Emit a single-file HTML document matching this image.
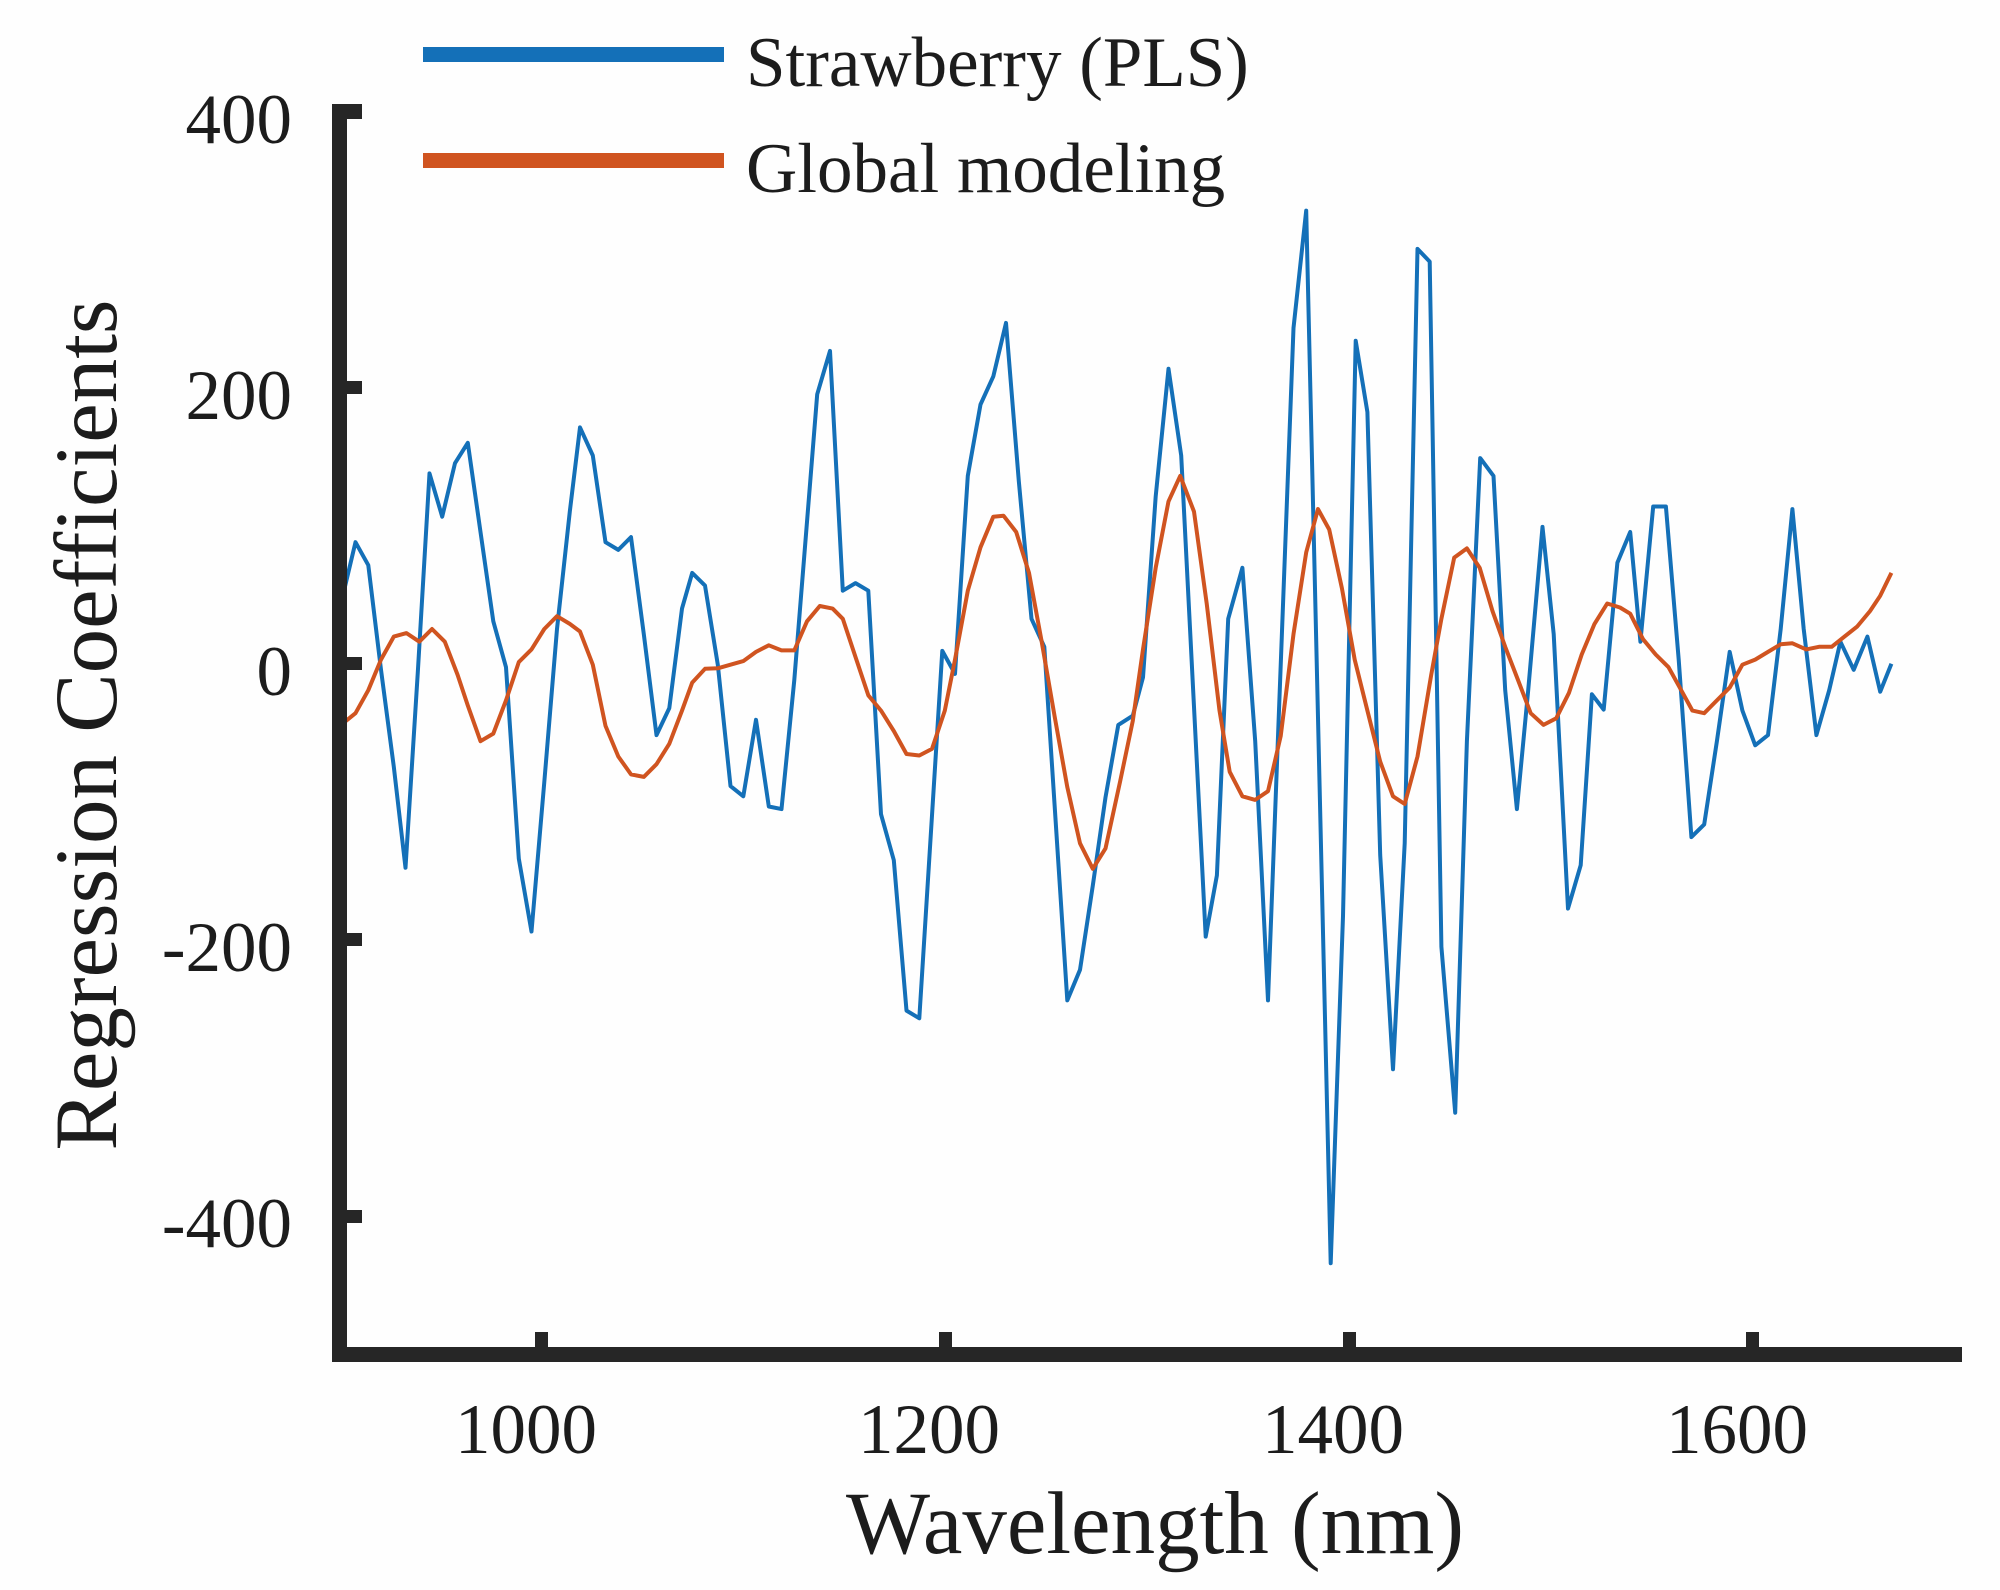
<!DOCTYPE html>
<html><head><meta charset="utf-8"><style>
html,body{margin:0;padding:0;background:#fff;}
svg{display:block;}
text{font-family:"Liberation Serif","Times New Roman",serif;fill:#1c1c1c;}
</style></head><body>
<svg width="2000" height="1590" viewBox="0 0 2000 1590" xmlns="http://www.w3.org/2000/svg">
<rect width="2000" height="1590" fill="#fefefe"/>
<!-- data -->
<polyline fill="none" stroke="#1470b8" stroke-width="4" stroke-linejoin="round" points="
342.8,595.8 355.5,542.2 368.3,565.2 381.0,669.8 393.8,766.7 405.5,867.8 417.8,672.3 429.5,473.4 442.2,516.7 455.0,463.2 467.8,442.8 480.5,532.0 493.3,621.3 506.0,667.2 518.8,858.6 531.5,931.5 544.3,782.0 557.0,629.0 569.8,511.6 580.0,427.4 592.8,455.5 605.5,542.2 618.3,549.9 631.0,537.1 643.8,634.1 656.5,735.1 669.3,708.1 682.0,608.6 692.2,572.9 705.0,585.6 717.8,664.7 730.5,786.1 743.3,796.3 756.0,719.8 768.8,806.5 781.5,809.1 794.3,680.0 807.0,521.8 817.2,394.3 830.0,350.9 842.8,590.7 855.5,583.1 868.3,590.7 881.0,814.2 893.8,860.1 906.5,1010.6 919.3,1018.3 942.3,650.9 955.0,673.9 967.8,475.9 980.5,404.5 993.3,376.4 1006.0,322.9 1018.8,481.0 1031.5,618.8 1044.3,646.8 1067.3,1000.4 1080.0,969.8 1092.8,885.6 1105.5,797.3 1118.3,724.9 1132.8,715.7 1143.0,677.4 1155.7,496.3 1168.5,368.8 1181.2,455.5 1205.7,936.6 1216.9,875.4 1228.2,618.8 1242.4,567.8 1255.2,741.2 1268.0,1000.4 1293.5,328.0 1306.2,210.6 1330.7,1263.2 1343.0,916.2 1355.7,340.7 1367.4,412.1 1380.2,855.0 1393.0,1069.3 1404.7,843.3 1417.5,248.9 1429.7,261.6 1441.4,946.8 1455.2,1112.7 1466.9,741.2 1480.2,458.1 1493.5,475.9 1505.2,690.2 1516.9,809.1 1528.2,690.2 1542.5,526.9 1553.7,634.1 1568.0,908.6 1580.7,865.2 1591.9,694.3 1603.7,709.6 1617.4,562.7 1630.2,532.0 1640.4,641.7 1653.2,506.5 1665.9,506.5 1678.7,659.6 1691.4,837.1 1704.2,824.4 1716.9,741.2 1729.7,651.9 1742.4,710.6 1755.2,745.3 1768.0,735.1 1780.7,629.0 1792.4,509.1 1803.7,629.0 1816.4,735.1 1829.2,690.2 1840.4,641.7 1853.7,669.8 1867.4,636.6 1880.2,691.7 1891.4,663.7"/>
<polyline fill="none" stroke="#d05420" stroke-width="4" stroke-linejoin="round" points="
342.8,723.4 355.5,713.2 368.3,690.2 381.0,659.6 393.8,636.6 406.5,633.1 419.3,641.7 432.0,629.0 444.8,641.7 457.6,674.9 467.8,705.5 480.5,741.2 493.3,733.6 506.0,700.4 518.8,662.1 531.5,649.4 544.3,629.0 557.0,616.2 569.8,623.9 580.0,631.5 592.8,664.7 605.5,725.9 618.3,756.5 631.0,774.4 643.8,776.9 656.5,764.2 669.3,743.8 682.0,710.6 692.2,682.6 705.0,668.8 717.8,668.3 730.5,664.7 743.3,661.1 756.0,651.9 768.8,645.3 781.5,650.4 794.3,650.4 807.0,621.3 819.8,606.0 832.6,608.6 842.8,618.8 855.5,657.0 868.3,695.3 881.0,710.6 893.8,731.0 906.5,754.0 919.3,755.5 932.0,748.9 944.8,710.6 955.0,659.6 967.8,590.7 980.5,547.3 993.3,516.7 1003.5,515.7 1016.2,532.0 1029.0,572.9 1041.7,641.7 1054.5,715.7 1067.3,787.1 1080.0,843.3 1092.8,868.8 1105.5,848.4 1120.0,782.0 1132.8,720.8 1143.0,649.4 1155.7,567.8 1168.5,501.4 1180.2,475.9 1194.0,511.6 1206.7,603.5 1219.5,710.6 1229.7,771.8 1242.4,796.3 1255.2,799.9 1268.0,791.2 1280.7,736.1 1293.5,634.1 1306.2,552.4 1318.0,509.1 1329.2,529.5 1341.9,588.2 1354.7,659.6 1367.4,710.6 1380.2,761.6 1393.0,796.3 1404.7,804.0 1417.5,756.5 1431.2,674.9 1441.4,618.8 1454.2,557.6 1466.9,548.4 1479.7,567.8 1492.5,611.1 1505.2,646.8 1518.0,680.0 1530.7,713.2 1543.5,724.9 1556.2,718.3 1569.0,692.8 1581.7,654.5 1594.5,623.9 1607.2,603.5 1620.0,607.5 1630.2,613.7 1643.0,639.2 1655.7,654.5 1668.5,667.2 1681.2,690.2 1692.4,710.6 1704.2,713.2 1716.9,700.4 1729.7,687.6 1742.4,664.7 1755.2,659.6 1768.0,651.9 1780.7,644.3 1792.4,643.3 1806.2,649.4 1819.0,646.8 1831.7,646.8 1844.5,636.6 1857.3,626.4 1870.0,611.1 1880.2,595.8 1891.4,572.9"/>
<!-- axes -->
<g fill="#262626">
<rect x="332" y="104" width="15" height="1258"/>
<rect x="332" y="1347" width="1630" height="15"/>
<rect x="347" y="104" width="15" height="15"/>
<rect x="347" y="381" width="15" height="13"/>
<rect x="347" y="657" width="15" height="13"/>
<rect x="347" y="933" width="15" height="13"/>
<rect x="347" y="1210" width="15" height="13"/>
<rect x="535" y="1332" width="13" height="15"/>
<rect x="939" y="1332" width="13" height="15"/>
<rect x="1343" y="1332" width="13" height="15"/>
<rect x="1746" y="1332" width="13" height="15"/>
</g>
<!-- y tick labels -->
<g font-size="71" text-anchor="end">
<text x="292" y="143">400</text>
<text x="292" y="419">200</text>
<text x="292" y="695">0</text>
<text x="292" y="971">-200</text>
<text x="292" y="1247">-400</text>
</g>
<!-- x tick labels -->
<g font-size="71" text-anchor="middle">
<text x="526" y="1453">1000</text>
<text x="929" y="1453">1200</text>
<text x="1333" y="1453">1400</text>
<text x="1737" y="1453">1600</text>
</g>
<!-- axis labels -->
<text x="1155" y="1553" font-size="89" text-anchor="middle">Wavelength (nm)</text>
<text transform="translate(116,725) rotate(-90)" font-size="89" text-anchor="middle">Regression Coefficients</text>
<!-- legend -->
<rect x="423" y="47" width="301" height="15" fill="#1470b8"/>
<rect x="423" y="153" width="301" height="15" fill="#d05420"/>
<text x="746" y="86" font-size="71">Strawberry (PLS)</text>
<text x="746" y="192" font-size="71">Global modeling</text>
</svg>
</body></html>
